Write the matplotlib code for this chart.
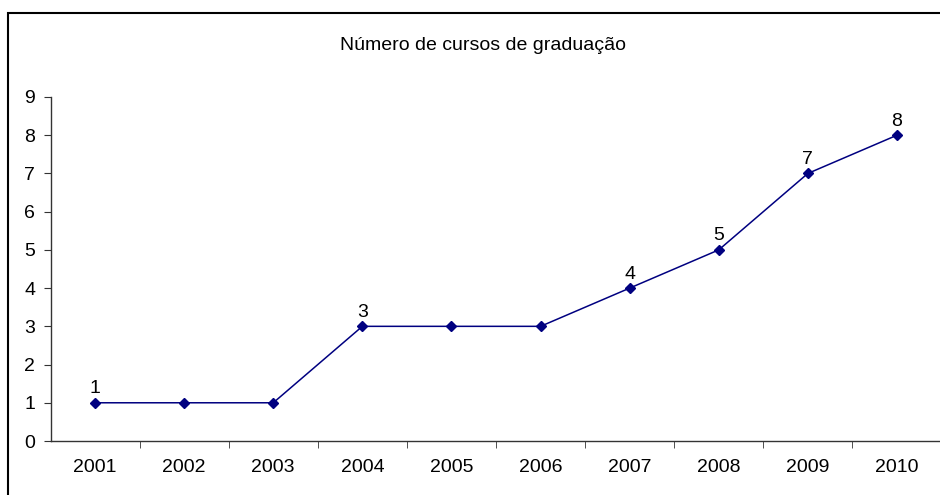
import matplotlib.pyplot as plt
from matplotlib.patches import Rectangle

# data
years = ['2001', '2002', '2003', '2004', '2005', '2006', '2007', '2008', '2009', '2010']
cursos = [1, 1, 1, 3, 3, 3, 4, 5, 7, 8]
labeled = [0, 3, 6, 7, 8, 9]  # points that show their value

plt.rcParams['font.family'] = ['Liberation Sans', 'DejaVu Sans']

W, H = 940, 495
fig = plt.figure(figsize=(W / 100, H / 100), dpi=100)

# outer chart frame (only left and top edges fall inside the picture)
fig.patches.append(Rectangle((8 / W, -0.1), 1.2, 1 - 13 / H + 0.1,
                             transform=fig.transFigure, fill=False,
                             edgecolor='black', linewidth=1.5))

ax = fig.add_axes([50.5 / W, 1 - 441 / H, 891 / W, 344 / H])
x = range(len(years))
ax.plot(x, cursos, color='#000080', marker='D', markersize=5, linewidth=1.1)

for i in labeled:
    ax.annotate(str(cursos[i]), (i, cursos[i]), xytext=(0, 4), textcoords='offset points',
                ha='center', va='bottom', fontsize=14)

ax.set_xlim(-0.5, len(years) - 0.5)
ax.set_ylim(0, 9)
ax.set_yticks(range(10))
ax.set_xticks(x)
ax.set_xticklabels(years)
ax.set_xticks([i + 0.5 for i in range(len(years))], minor=True)
ax.tick_params(axis='x', which='major', length=0, labelsize=14, pad=13)
ax.tick_params(axis='x', which='minor', length=5, direction='out', color='#333333')
ax.tick_params(axis='y', length=5, direction='out', labelsize=14, pad=6, color='#333333')

for s in ['top', 'right']:
    ax.spines[s].set_visible(False)
for s in ['left', 'bottom']:
    ax.spines[s].set_color('#333333')
    ax.spines[s].set_linewidth(1)

fig.text(483 / W, 1 - 45 / H, 'Número de cursos de graduação', ha='center', va='center', fontsize=14)

fig.savefig('out.png', dpi=100)
